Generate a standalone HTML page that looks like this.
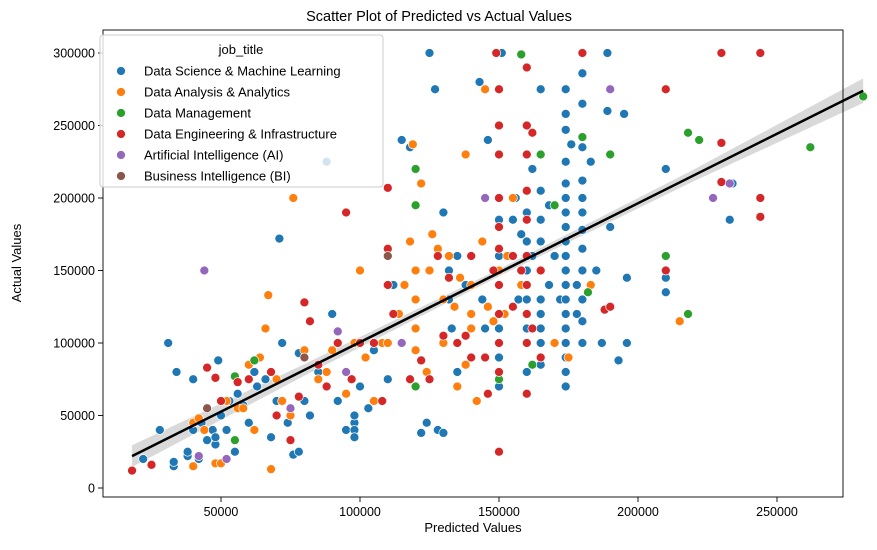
<!DOCTYPE html>
<html><head><meta charset="utf-8"><style>
body{margin:0;background:#fff}
svg{font-family:"Liberation Sans","DejaVu Sans",sans-serif}
</style></head><body>
<svg id="chart" width="877" height="545" viewBox="0 0 877 545" xmlns="http://www.w3.org/2000/svg">
<rect width="877" height="545" fill="#fff"/>
<text x="439" y="21" text-anchor="middle" font-size="14.5">Scatter Plot of Predicted vs Actual Values</text>
<g id="band"></g>
<g id="points"></g>
<g id="fit"></g>
<rect x="103" y="30" width="740" height="467" fill="none" stroke="#000" stroke-width="0.9"/>
<g id="xaxis"></g>
<g id="yaxis"></g>
<text x="473" y="532" text-anchor="middle" font-size="13">Predicted Values</text>
<text transform="translate(21,263) rotate(-90)" text-anchor="middle" font-size="13">Actual Values</text>
<g id="legend"></g>
</svg>
<script>
const seriesNames=["Data Science & Machine Learning","Data Analysis & Analytics","Data Management","Data Engineering & Infrastructure","Artificial Intelligence (AI)","Business Intelligence (BI)"];
const seriesColors=["#1f77b4","#ff7f0e","#2ca02c","#d62728","#9467bd","#8c564b"];
const xTicks=[50000,100000,150000,200000,250000];
const yTicks=[0,50000,100000,150000,200000,250000,300000];
const blue=[[22,20],[28,40],[31,100],[33,15],[33,18],[34,80],[38,22],[38,25],[40,40],[40,75],[42,20],[43,45],[45,33],[47,40],[48,30],[48,35],[49,88],[50,50],[52,40],[53,60],[55,25],[56,65],[58,57],[60,45],[62,80],[63,70],[66,75],[68,35],[70,60],[71,172],[72,100],[74,45],[76,23],[78,25],[78,93],[80,60],[82,50],[85,80],[88,225],[90,120],[92,60],[95,40],[98,45],[98,40],[98,35],[98,50],[100,70],[103,55],[105,95],[108,100],[110,100],[110,75],[112,140],[115,240],[118,235],[120,110],[122,38],[124,45],[125,300],[127,275],[128,40],[130,38],[130,190],[132,150],[132,130],[133,110],[135,80],[135,160],[138,140],[140,120],[143,280],[144,130],[145,110],[146,240],[150,200],[150,185],[150,160],[150,140],[150,120],[150,110],[150,100],[150,90],[150,70],[151,300],[155,185],[156,200],[157,130],[158,175],[160,205],[160,190],[160,170],[160,150],[160,130],[160,110],[160,80],[162,220],[162,160],[165,275],[165,205],[165,185],[165,170],[165,150],[165,130],[165,120],[165,110],[165,100],[165,85],[168,195],[168,140],[170,160],[172,130],[174,275],[174,258],[174,247],[174,225],[174,210],[174,200],[174,190],[174,180],[174,170],[174,160],[174,150],[174,140],[174,130],[174,120],[174,110],[174,100],[174,90],[174,80],[174,70],[176,237],[178,140],[178,120],[180,286],[180,265],[180,235],[180,212],[180,200],[180,190],[180,178],[180,165],[180,150],[180,130],[180,115],[180,100],[183,225],[185,150],[187,100],[189,300],[189,260],[190,180],[190,125],[193,88],[195,258],[196,145],[196,100],[210,220],[210,145],[210,135],[233,185],[234,210]];
const orange=[[40,45],[40,15],[42,48],[44,40],[48,17],[50,17],[52,60],[56,55],[58,55],[60,85],[62,40],[64,90],[66,110],[67,133],[68,13],[70,75],[72,60],[75,50],[76,200],[80,95],[85,75],[88,80],[90,95],[95,65],[98,100],[100,150],[102,90],[105,60],[108,100],[110,100],[114,120],[116,140],[118,170],[119,237],[120,150],[120,130],[120,110],[120,95],[122,210],[124,80],[125,150],[126,175],[128,165],[130,130],[130,100],[132,160],[134,125],[135,70],[136,145],[138,85],[138,230],[140,140],[140,120],[140,110],[142,60],[144,170],[145,275],[145,200],[146,125],[148,115],[150,150],[152,120],[153,160],[155,200],[158,140],[170,100],[175,90],[183,140],[215,115]];
const green=[[55,33],[55,77],[62,88],[120,220],[120,195],[120,70],[150,75],[158,299],[162,85],[165,230],[170,195],[180,242],[182,135],[190,230],[210,160],[218,245],[218,120],[222,240],[262,235],[281,270]];
const red=[[18,12],[25,16],[45,83],[48,76],[50,60],[56,73],[60,75],[68,80],[70,50],[75,33],[78,63],[80,128],[82,115],[85,85],[88,70],[92,100],[95,190],[97,75],[100,100],[105,100],[108,60],[110,207],[110,165],[110,140],[112,120],[115,100],[118,75],[122,88],[125,75],[128,160],[130,105],[132,145],[135,100],[138,105],[140,90],[140,160],[145,90],[146,65],[148,150],[149,300],[150,275],[150,250],[150,230],[150,200],[150,180],[150,165],[150,140],[150,120],[150,100],[150,80],[150,25],[155,160],[155,125],[158,150],[160,290],[160,250],[160,230],[160,205],[160,185],[160,160],[160,140],[160,120],[160,100],[160,65],[162,245],[162,110],[165,150],[165,90],[180,300],[188,123],[190,125],[210,275],[210,150],[230,300],[230,238],[230,211],[244,300],[244,200],[244,187]];
const purple=[[44,150],[42,22],[52,20],[75,55],[92,108],[95,80],[115,100],[145,200],[190,275],[227,200],[233,210]];
const brown=[[110,160],[45,55],[80,90]];
const fitX=[18000,281000];
const fitY=[22000,274000];
const bandX=[18000,80000,150000,220000,281000];
const bandHalf=[7500,4000,2500,4000,8500];

const NS="http://www.w3.org/2000/svg";
const xs=v=>82+v*139/50000;
const ys=v=>488-v*72.5/50000;
function mk(tag,attrs,parent){const e=document.createElementNS(NS,tag);for(const k in attrs)e.setAttribute(k,attrs[k]);parent.appendChild(e);return e;}

const xa=document.getElementById('xaxis');
xTicks.forEach(t=>{
  const l=mk('line',{x1:xs(t),x2:xs(t),y1:497,y2:502,stroke:'#000','stroke-width':0.9},xa);
  
  
  const tx=mk('text',{x:xs(t),y:516,'text-anchor':'middle','font-size':12.5},xa);
  tx.textContent=t;
  
  
});
const ya=document.getElementById('yaxis');
yTicks.forEach(t=>{
  const l=mk('line',{x1:98,x2:103,y1:ys(t),y2:ys(t),stroke:'#000','stroke-width':0.9},ya);
  
  
  const tx=mk('text',{x:95,y:ys(t)+4.5,'text-anchor':'end','font-size':12.5},ya);
  tx.textContent=t;
  
  
});

const slope=(fitY[1]-fitY[0])/(fitX[1]-fitX[0]);
const fy=x=>fitY[0]+slope*(x-fitX[0]);
let up=bandX.map((x,i)=>xs(x)+','+ys(fy(x)+bandHalf[i]));
let dn=bandX.map((x,i)=>xs(x)+','+ys(fy(x)-bandHalf[i])).reverse();
const bp=mk('polygon',{points:up.concat(dn).join(' '),fill:'#000','fill-opacity':0.15},document.getElementById('band'));



const all=[blue,orange,green,red,purple,brown];
const pg=document.getElementById('points');
all.forEach((s,si)=>{
  s.forEach(p=>{
    const c=mk('circle',{cx:xs(p[0]*1000),cy:ys(p[1]*1000),r:4.5,fill:seriesColors[si],stroke:'#fff','stroke-width':0.7},pg);
    
    
  });
});

const fl=mk('line',{x1:xs(fitX[0]),y1:ys(fitY[0]),x2:xs(fitX[1]),y2:ys(fitY[1]),stroke:'#000','stroke-width':2.5},document.getElementById('fit'));



const lg=document.getElementById('legend');
const box=mk('rect',{x:100,y:35,width:283,height:152,rx:3,fill:'#fff','fill-opacity':0.8,stroke:'#ccc'},lg);


const lt=mk('text',{x:241,y:54,'text-anchor':'middle','font-size':13},lg);
lt.textContent='job_title';


seriesNames.forEach((n,i)=>{
  const y=71+i*21;
  const c=mk('circle',{cx:121,cy:y,r:4.5,fill:seriesColors[i],stroke:'#fff','stroke-width':0.7},lg);
  
  
  const t=mk('text',{x:144,y:y+4.5,'font-size':13},lg);
  t.textContent=n;
  
  
});
</script>
</body></html>
